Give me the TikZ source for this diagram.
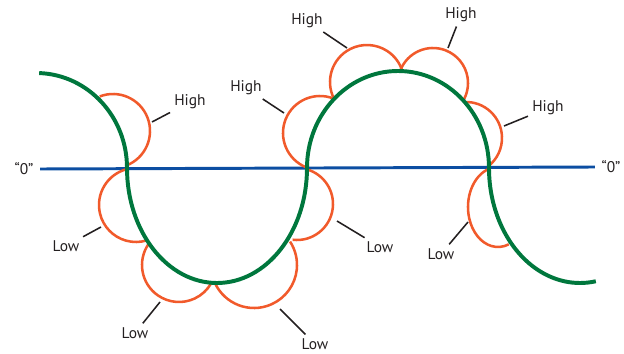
\documentclass[tikz,border=0pt]{standalone}
\usepackage{fontspec}
\setsansfont{PT Sans}
\usepackage{tikz}
\usepackage{xcolor}
\usetikzlibrary{calc}
\definecolor{wavegreen}{HTML}{00773D}
\definecolor{bumporange}{HTML}{F15A2B}
\definecolor{zeroblue}{HTML}{0C4EA2}
\definecolor{inkgray}{HTML}{231F20}
\tikzset{
  wave/.style={draw=wavegreen, line width=2.8pt},
  bump/.style={draw=bumporange, line width=1.8pt},
  zero/.style={draw=zeroblue, line width=2.1pt},
  tag/.style={font=\sffamily\fontsize{11}{13}\selectfont, text=inkgray, inner sep=2pt},
  zlbl/.style={tag, inner sep=4.5pt},
  lead/.style={draw=inkgray, line width=1.1pt, shorten <=1pt},
}

\begin{document}
\begin{tikzpicture}[x=0.025cm, y=-0.025cm]
  \useasboundingbox (0,0) rectangle (624,354);
  % zero level
  \node[zlbl] (zl) at (24,169) {“0”};
  \node[zlbl] (zr) at (611,167) {“0”};
  \draw[zero] (zl.east) -- (zr.west);
  % bit bumps: centre x/y, radii, start/end angle
  \foreach \cx/\cy/\rx/\ry/\a/\b in {113/131/37/37/-111/69, 136/205/37/37/256/73,
      179/265/37/37/215/29, 254/265/43/43/156/-33, 297/204/36/36/97/-74,
      320/133/37/37/112/291, 367/82/37/37/153/343, 433/83/35/35/201/391,
      466/138/36/36/268/412, 498/207/30/40/253/69}
    \draw[bump] (\cx,\cy) ++({\rx*cos(\a)},{\ry*sin(\a)}) arc[start angle=\a, end angle=\b, x radius=\rx, y radius=\ry];
  % signal
  \draw[wave] (36,168) ++({91*cos(-88)},{95*sin(-88)}) arc[start angle=-88, end angle=0, x radius=91, y radius=95]
    arc[start angle=180, end angle=0, x radius=90, y radius=115]
    arc[start angle=180, end angle=360, x radius=91, y radius=97]
    arc[start angle=180, end angle=80, x radius=91, y radius=115];
  % labels
  \foreach \n/\txt/\pos/\tip in {hA/High/{190,102}/{152,122}, lB/Low/{66,246}/{101,227},
      lC/Low/{135,333}/{160,302}, lD/Low/{315,344}/{280,309}, lE/Low/{380,247}/{337,221},
      hF/High/{246,88}/{284,113}, hG/High/{307,21}/{347,48}, hH/High/{461,15}/{448,48},
      hI/High/{548,108}/{504,126}, lJ/Low/{441,254}/{468,222}}{
    \node[tag] (\n) at (\pos) {\txt};
    \coordinate (\n-e) at (\tip);
    \draw[lead] (\n) -- (\n-e);
  }
\end{tikzpicture}
\end{document}
